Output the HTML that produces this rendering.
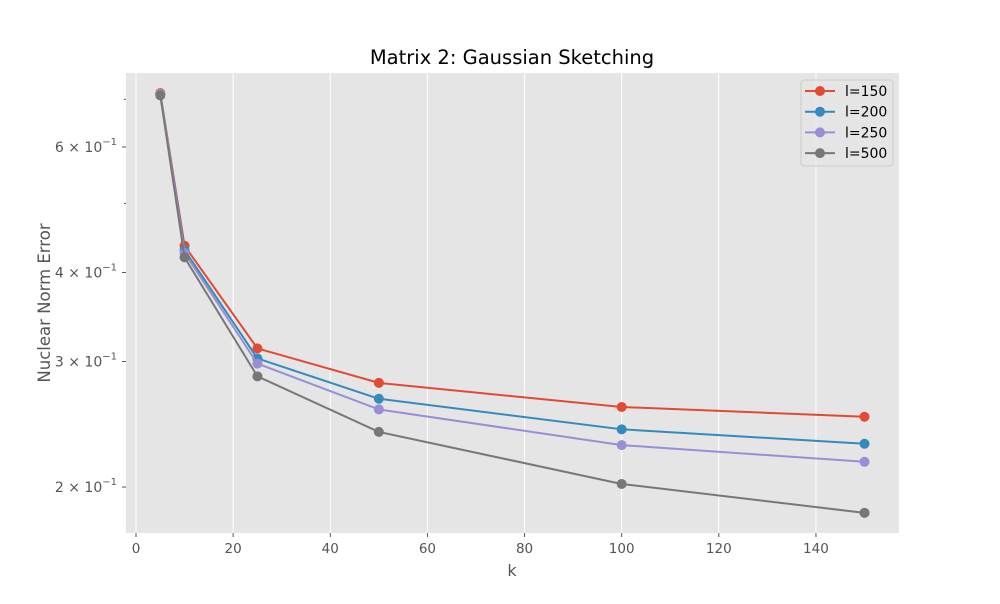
<!DOCTYPE html>
<html><head><meta charset="utf-8"><style>
body{margin:0;background:#fff;font-family:"DejaVu Sans","Liberation Sans",sans-serif;}
svg text{font-family:"DejaVu Sans","Liberation Sans",sans-serif;}
</style></head><body>
<svg id="chart" width="1000" height="600" xmlns="http://www.w3.org/2000/svg">
<rect x="0" y="0" width="1000" height="600" fill="#fff"/>
<rect x="126" y="73" width="773" height="460" fill="#E5E5E5"/>
<g id="grid"></g>
<g id="axes"></g>
<g id="series"></g>
<text x="512" y="64" font-size="19.5" text-anchor="middle" fill="#000">Matrix 2: Gaussian Sketching</text>
<text x="512" y="576" font-size="16" text-anchor="middle" fill="#555">k</text>
<text x="50" y="303" font-size="16.5" text-anchor="middle" fill="#555" transform="rotate(-90 50 303)">Nuclear Norm Error</text>
<g id="legend"></g>
</svg>
<script>
const categories = [5, 10, 25, 50, 100, 150];
const seriesNames = ["l=150", "l=200", "l=250", "l=500"];
const l150 = [0.714, 0.436, 0.313, 0.280, 0.259, 0.251];
const l200 = [0.712, 0.430, 0.303, 0.266, 0.241, 0.230];
const l250 = [0.712, 0.426, 0.298, 0.257, 0.229, 0.217];
const l500 = [0.709, 0.420, 0.286, 0.239, 0.202, 0.184];
const xTicks = [0, 20, 40, 60, 80, 100, 120, 140];
const yMajorTicks = [0.2, 0.3, 0.4, 0.6];
const yMajorLabels = ["2", "3", "4", "6"];
const yMinorTicks = [0.5, 0.7];

const NS = "http://www.w3.org/2000/svg";
const colors = ["#E24A33", "#348ABD", "#988ED5", "#777777"];
const allSeries = [l150, l200, l250, l500];
const X0 = 126, X1 = 899, Y0 = 73, Y1 = 533;
const xMin = -2.06, xMax = 157.1, yMin = 0.1724, yMax = 0.762;
function xs(v){ return X0 + (v - xMin) / (xMax - xMin) * (X1 - X0); }
function ys(v){ return Y1 - (Math.log10(v) - Math.log10(yMin)) / (Math.log10(yMax) - Math.log10(yMin)) * (Y1 - Y0); }
function mk(tag, attrs, parent){ const e = document.createElementNS(NS, tag); for (const k in attrs) e.setAttribute(k, attrs[k]); parent.appendChild(e); return e; }

const grid = document.getElementById("grid");
const axes = document.getElementById("axes");
xTicks.forEach(t => {
  const x = xs(t);
  const g = mk("line", {x1:x, x2:x, y1:Y0, y2:Y1, stroke:"#fff", "stroke-width":1}, grid);
  
  
  const tk = mk("line", {x1:x, x2:x, y1:Y1, y2:Y1+4, stroke:"#555", "stroke-width":1}, axes);
  
  
  const lb = mk("text", {x:x, y:Y1+20, "font-size":13.5, "text-anchor":"middle", fill:"#555"}, axes);
  lb.textContent = t;
  
  
});
yMajorTicks.forEach((t, i) => {
  const y = ys(t);
  const tk = mk("line", {x1:X0-4, x2:X0, y1:y, y2:y, stroke:"#555", "stroke-width":1}, axes);
  
  
  const lb = mk("text", {x:X0-9, y:y+5, "font-size":14, "text-anchor":"end", fill:"#555"}, axes);
  
  
  lb.innerHTML = yMajorLabels[i] + " \u00d7 10<tspan dy='-7' font-size='10'>\u22121</tspan>";
});
yMinorTicks.forEach(t => {
  const y = ys(t);
  const tk = mk("line", {x1:X0-2, x2:X0, y1:y, y2:y, stroke:"#555", "stroke-width":1}, axes);
  
  
});

const sg = document.getElementById("series");
allSeries.forEach((s, si) => {
  const pts = s.map((v, i) => xs(categories[i]) + "," + ys(v)).join(" ");
  const pl = mk("polyline", {points:pts, fill:"none", stroke:colors[si], "stroke-width":2}, sg);
  
  
  s.forEach((v, i) => {
    const c = mk("circle", {cx:xs(categories[i]), cy:ys(v), r:5, fill:colors[si]}, sg);
    
    
  });
});

const lg = document.getElementById("legend");
const box = mk("rect", {x:801, y:80, width:92, height:86, rx:3, fill:"#E5E5E5", "fill-opacity":0.8, stroke:"#ccc", "stroke-width":1}, lg);


seriesNames.forEach((n, i) => {
  const y = 91 + i * 20.7;
  const ln = mk("line", {x1:805, x2:835, y1:y, y2:y, stroke:colors[i], "stroke-width":2}, lg);
  
  
  const c = mk("circle", {cx:820, cy:y, r:5, fill:colors[i]}, lg);
  
  
  const t = mk("text", {x:845, y:y+5, "font-size":14, fill:"#000"}, lg);
  t.textContent = n;
  
  
});
</script>
</body></html>
